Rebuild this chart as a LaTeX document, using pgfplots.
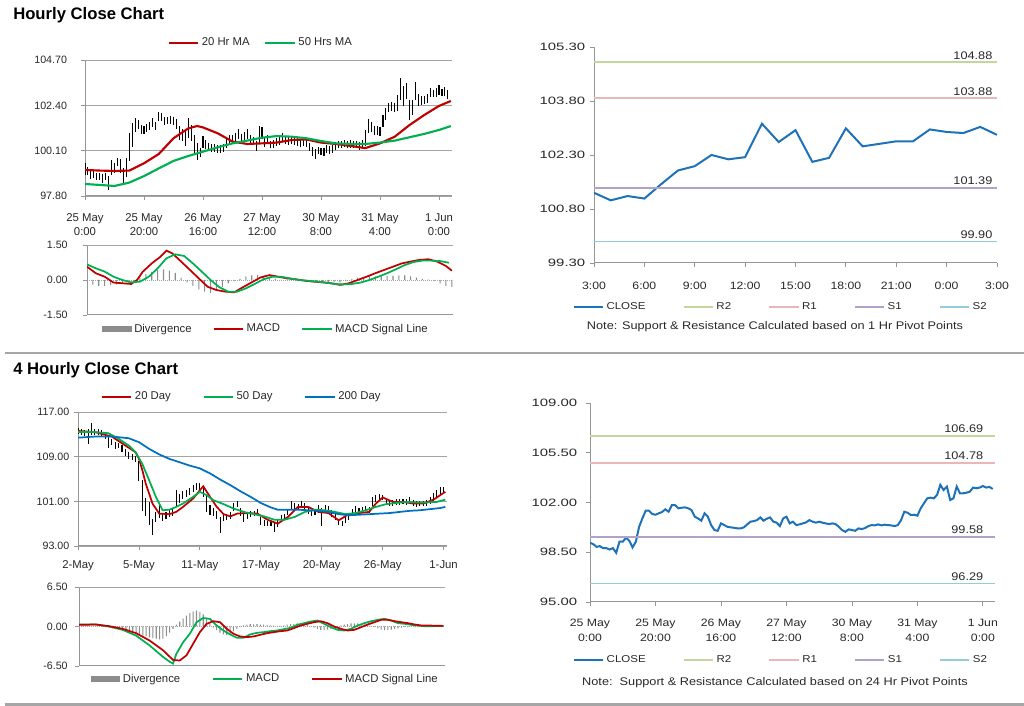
\documentclass[border=0pt]{standalone}
\usepackage{fontspec}
\setmainfont{Liberation Sans}
\newfontfamily\widefont[FakeStretch=1.4]{Liberation Sans}
\newfontfamily\midfont[FakeStretch=1.15]{Liberation Sans}
\usepackage{pgfplots}
\usepackage{pgfplotstable}
\pgfplotsset{compat=1.18}

\definecolor{mared}{RGB}{192,0,0}
\definecolor{magreen}{RGB}{0,176,80}
\definecolor{mablue}{RGB}{0,112,192}
\definecolor{closeblue}{RGB}{30,114,184}
\definecolor{rtwo}{RGB}{195,214,155}
\definecolor{rone}{RGB}{230,185,184}
\definecolor{sone}{RGB}{179,162,199}
\definecolor{stwo}{RGB}{147,205,221}
\definecolor{gridgray}{RGB}{165,165,165}
\definecolor{axgray}{RGB}{150,150,150}
\definecolor{divgray}{RGB}{140,140,140}
\definecolor{txt}{RGB}{40,40,40}

% ---------- hourly closes (25 May 0:00 ... 1 Jun 3:00) ----------
\pgfplotstableread{
h c e
0 99.16 0.30
1 99.07 0.20
2 98.88 0.20
3 98.93 0.20
4 98.79 0.20
5 98.79 0.20
6 98.69 0.22
7 98.79 0.20
8 98.46 0.35
9 99.24 0.40
10 99.24 0.25
11 99.52 0.22
12 99.31 0.35
13 98.84 0.40
14 99.24 0.50
15 100.29 0.70
16 100.88 0.60
17 101.42 0.35
18 101.42 0.22
19 101.19 0.22
20 101.14 0.20
21 101.24 0.20
22 101.33 0.20
23 101.52 0.22
24 101.35 0.20
25 101.82 0.22
26 101.82 0.20
27 101.59 0.20
28 101.63 0.20
29 101.66 0.20
30 101.59 0.20
31 101.47 0.25
32 101.00 0.35
33 100.88 0.30
34 100.72 0.40
35 101.24 0.50
36 101.00 0.40
37 100.41 0.50
38 100.06 0.45
39 100.01 0.25
40 100.53 0.30
41 100.41 0.22
42 100.29 0.20
43 100.25 0.20
44 100.22 0.20
45 100.18 0.20
46 100.18 0.20
47 100.25 0.20
48 100.46 0.22
49 100.65 0.22
50 100.69 0.20
51 100.76 0.25
52 100.95 0.25
53 100.72 0.22
54 100.86 0.20
55 100.95 0.25
56 100.65 0.22
57 100.58 0.20
58 100.34 0.25
59 100.88 0.45
60 101.00 0.30
61 100.53 0.25
62 100.65 0.22
63 100.41 0.20
64 100.46 0.20
65 100.53 0.20
66 100.60 0.20
67 100.76 0.22
68 100.65 0.20
69 100.58 0.20
70 100.65 0.20
71 100.58 0.20
72 100.53 0.20
73 100.48 0.20
74 100.53 0.20
75 100.48 0.20
76 100.29 0.22
77 100.06 0.25
78 99.94 0.25
79 100.11 0.20
80 100.06 0.20
81 100.01 0.20
82 100.18 0.20
83 100.13 0.20
84 100.20 0.20
85 100.34 0.20
86 100.41 0.20
87 100.39 0.18
88 100.46 0.18
89 100.39 0.18
90 100.44 0.18
91 100.41 0.18
92 100.39 0.18
93 100.34 0.20
94 100.41 0.25
95 100.76 0.40
96 101.35 0.35
97 101.28 0.25
98 101.12 0.25
99 101.14 0.22
100 101.07 0.25
101 101.59 0.30
102 101.94 0.30
103 102.29 0.25
104 102.34 0.22
105 102.29 0.25
106 102.53 0.40
107 103.24 0.55
108 102.88 0.50
109 103.12 0.40
110 102.18 0.50
111 102.29 0.40
112 103.12 0.45
113 102.65 0.30
114 102.65 0.22
115 102.69 0.20
116 102.76 0.22
117 103.05 0.25
118 103.00 0.20
119 103.05 0.22
120 103.16 0.25
121 103.05 0.20
122 103.10 0.22
123 102.95 0.22
}\hourly

\pgfplotstableread{
h v
0 99.12
5 99.09
10 99.07
15 99.09
20 99.46
25 99.93
30 100.73
35 101.23
38 101.35
40 101.28
45 100.98
50 100.56
55 100.44
60 100.47
65 100.51
70 100.64
75 100.67
80 100.51
85 100.44
90 100.34
95 100.23
100 100.47
105 100.81
110 101.40
115 101.91
120 102.37
124 102.62
}\hmaA

\pgfplotstableread{
h v
0 98.41
5 98.36
10 98.31
15 98.48
20 98.81
25 99.20
30 99.58
35 99.83
40 100.05
45 100.27
50 100.47
55 100.61
60 100.76
65 100.84
70 100.81
75 100.73
80 100.59
85 100.47
90 100.44
95 100.44
100 100.51
105 100.61
110 100.78
115 100.95
120 101.15
124 101.35
}\hmaB

\pgfplotstableread{
h m
0 0.57
3 0.29
6 0.14
9 -0.11
12 -0.14
15 -0.17
17 0.00
19 0.36
22 0.71
25 1.00
27 1.26
29 1.14
32 0.79
35 0.43
38 0.07
41 -0.29
44 -0.43
47 -0.50
50 -0.53
53 -0.31
56 -0.10
59 0.11
62 0.21
65 0.14
68 0.07
71 0.03
74 -0.03
77 -0.07
80 -0.10
83 -0.14
86 -0.21
89 -0.14
92 0.00
95 0.14
98 0.29
101 0.43
104 0.57
107 0.71
110 0.79
113 0.86
116 0.89
119 0.79
122 0.60
124 0.40
}\hmacd

\pgfplotstableread{
h s
0 0.67
3 0.50
6 0.36
9 0.14
12 0.00
15 -0.10
18 -0.07
21 0.14
24 0.50
27 0.93
30 1.10
33 1.03
36 0.71
39 0.36
42 0.00
45 -0.31
48 -0.50
51 -0.50
54 -0.36
57 -0.17
60 0.03
63 0.14
66 0.14
69 0.07
72 0.00
75 -0.03
78 -0.07
81 -0.11
84 -0.17
87 -0.19
90 -0.17
93 -0.11
96 0.00
99 0.14
102 0.29
105 0.46
108 0.64
111 0.77
114 0.83
117 0.83
120 0.81
123 0.74
}\hsig

\pgfplotstableread{
h d
0 -0.10
2 -0.20
4 -0.25
6 -0.25
8 -0.22
10 -0.20
12 -0.15
14 -0.10
16 -0.05
18 0.10
20 0.25
22 0.35
24 0.42
26 0.45
28 0.40
30 0.30
32 0.10
34 -0.10
36 -0.25
38 -0.40
40 -0.50
42 -0.55
44 -0.45
46 -0.30
48 -0.15
50 -0.05
52 0.05
54 0.15
56 0.20
58 0.22
60 0.18
62 0.12
64 0.05
66 0.02
68 0.03
70 0.02
72 -0.02
74 -0.03
76 -0.05
78 -0.05
80 -0.05
82 -0.08
84 -0.10
86 -0.10
88 -0.05
90 0.05
92 0.10
94 0.12
96 0.15
98 0.15
100 0.15
102 0.17
104 0.18
106 0.20
108 0.20
110 0.15
112 0.10
114 0.05
116 0.02
118 -0.05
120 -0.15
122 -0.25
124 -0.30
}\hdiv

% ---------- last 24 hourly closes ----------
\pgfplotstableread{
h c
0 101.25
1 101.04
2 101.16
3 101.09
4 101.49
5 101.87
6 101.99
7 102.30
8 102.18
9 102.24
10 103.17
11 102.66
12 102.99
13 102.11
14 102.22
15 103.04
16 102.54
17 102.61
18 102.68
19 102.68
20 103.01
21 102.94
22 102.91
23 103.08
24 102.86
}\pivA

% ---------- 4-hourly bars (2 May ... 1 Jun) ----------
\pgfplotstableread{
i c e
0 113.6 0.6
1 113.4 0.5
2 113.2 0.5
3 112.6 1.4
4 114.0 1.1
5 113.4 0.5
6 113.4 0.5
7 113.2 0.5
8 112.8 0.6
9 111.6 1.1
10 111.6 0.6
11 111.0 0.6
12 111.0 0.5
13 110.4 0.6
14 109.8 0.6
15 109.2 0.6
16 108.9 0.5
17 108.6 0.6
18 106.5 1.8
19 102.0 2.8
20 100.0 1.6
21 98.8 2.0
22 96.4 1.5
23 98.2 0.9
24 99.3 1.3
25 98.2 0.7
26 98.5 0.6
27 98.8 0.6
28 99.1 0.7
29 101.5 1.5
30 101.5 0.8
31 102.1 0.7
32 102.4 0.6
33 102.7 0.6
34 103.3 0.7
35 103.6 0.6
36 103.7 0.6
37 102.7 0.9
38 100.5 1.5
39 99.4 0.9
40 99.1 0.7
41 98.5 0.7
42 96.8 1.4
43 98.2 0.7
44 98.2 0.6
45 98.5 0.6
46 100.0 0.7
47 100.5 0.6
48 99.1 0.7
49 98.2 0.9
50 98.5 0.6
51 98.7 0.5
52 98.8 0.5
53 99.1 0.6
54 97.5 0.7
55 97.1 0.5
56 97.0 0.5
57 97.0 0.5
58 96.3 0.8
59 97.0 0.6
60 97.9 0.6
61 98.2 0.6
62 99.1 0.6
63 100.3 0.7
64 100.1 0.6
65 100.0 0.5
66 100.5 0.5
67 100.2 0.5
68 99.4 0.6
69 98.9 0.5
70 99.1 0.5
71 99.7 0.6
72 98.2 1.6
73 99.7 0.6
74 99.7 0.5
75 98.8 0.6
76 98.2 0.6
77 97.3 0.6
78 97.0 0.5
79 97.7 0.6
80 98.2 0.6
81 99.1 0.6
82 99.5 0.7
83 99.3 0.5
84 99.4 0.5
85 99.7 0.5
86 99.4 0.5
87 100.9 0.8
88 101.5 0.7
89 101.8 0.6
90 101.7 0.5
91 100.9 0.6
92 100.6 0.5
93 100.7 0.5
94 100.9 0.5
95 100.9 0.5
96 101.0 0.5
97 100.9 0.5
98 101.2 0.5
99 100.7 0.5
100 100.5 0.5
101 100.6 0.4
102 100.6 0.4
103 100.7 0.5
104 101.2 0.6
105 101.8 0.7
106 102.4 0.7
107 102.9 0.6
108 103.0 0.6
}\fourh

\pgfplotstableread{
i v
0 113.6
5 113.4
10 112.6
14 111.0
17 109.8
18 108.6
19 106.6
20 104.2
22 100.6
24 98.8
27 98.7
29 99.1
31 100.0
34 101.5
37 103.7
39 101.8
41 100.0
43 98.7
45 98.3
47 98.8
50 98.9
53 98.8
56 97.7
59 97.0
62 98.2
65 100.0
68 100.0
71 99.1
74 98.9
77 97.6
80 98.7
83 98.9
86 99.1
88 100.6
90 101.7
93 100.9
96 100.9
99 100.6
102 100.6
105 101.3
108.5 102.7
}\dmaA

\pgfplotstableread{
i v
0 113.4
5 113.4
9 113.2
12 112.2
15 111.0
17 109.8
19 107.7
21 104.8
23 101.8
25 99.4
27 99.5
29 100.0
31 100.6
34 101.8
36 102.7
38 102.1
40 101.2
43 100.5
46 99.7
49 99.1
52 98.7
55 98.3
58 97.7
61 97.7
64 98.2
67 99.1
70 99.5
73 99.4
76 99.1
79 98.7
82 98.9
85 99.4
88 100.0
91 100.5
94 100.7
97 100.9
100 100.8
103 100.8
106 100.9
108.5 101.3
}\dmaB

\pgfplotstableread{
i v
0 112.4
5 112.6
10 112.6
15 112.3
18 111.6
21 110.4
24 109.4
27 108.6
30 108.0
33 107.4
36 106.9
39 106.0
42 104.9
45 103.9
48 102.8
51 101.8
54 100.7
57 99.9
59 99.5
62 99.5
65 99.5
68 99.4
71 99.3
74 99.1
77 98.7
80 98.5
83 98.6
86 98.7
89 98.8
92 98.9
95 99.1
98 99.3
101 99.4
104 99.6
107 99.8
108.5 100.0
}\dmaC

\pgfplotstableread{
i m
0 0.33
5 0.33
9 0.00
13 -0.55
17 -1.50
21 -3.10
25 -5.00
27 -5.80
28 -6.10
29 -4.50
31 -2.60
33 -1.20
35 0.70
37 1.40
39 1.25
41 0.16
43 -0.66
45 -1.30
47 -1.86
49 -1.86
51 -1.30
53 -1.04
55 -0.93
57 -0.77
59 -0.66
61 -0.44
63 -0.22
65 0.27
67 0.55
69 0.82
71 0.98
73 0.44
75 -0.11
77 -0.55
79 -0.66
81 -0.38
83 0.16
85 0.55
87 0.87
89 1.10
91 1.26
93 0.98
95 0.55
97 0.44
99 0.27
101 0.16
103 0.05
105 0.05
108.5 0.10
}\dmacd

\pgfplotstableread{
i s
0 0.27
5 0.33
9 0.05
13 -0.38
17 -1.10
21 -2.30
25 -3.90
28 -5.50
30 -5.60
32 -4.75
34 -2.84
36 -0.93
38 0.44
40 0.87
42 0.71
44 -0.38
46 -1.20
48 -1.64
50 -1.75
52 -1.64
54 -1.37
56 -1.10
58 -0.93
60 -0.77
62 -0.66
64 -0.27
66 0.16
68 0.44
70 0.71
72 0.87
74 0.55
76 0.00
78 -0.38
80 -0.66
82 -0.55
84 -0.11
86 0.33
88 0.71
90 1.10
92 1.10
94 0.87
96 0.71
98 0.55
100 0.33
102 0.16
104 0.16
108.5 0.10
}\dsig

\pgfplotstableread{
i d
0 0.10
1 0.10
2 0.10
3 0.05
4 0.00
5 0.00
6 0.00
7 -0.05
8 -0.10
9 -0.20
10 -0.30
11 -0.40
12 -0.50
13 -0.60
14 -0.70
15 -0.90
16 -1.00
17 -1.10
18 -1.30
19 -1.50
20 -1.60
21 -1.80
22 -1.90
23 -2.00
24 -2.10
25 -2.00
26 -1.60
27 -1.00
28 -0.40
29 0.30
30 0.80
31 1.30
32 1.80
33 2.20
34 2.50
35 2.60
36 2.40
37 2.00
38 1.30
39 0.50
40 -0.20
41 -0.60
42 -1.00
43 -1.30
44 -1.40
45 -1.20
46 -0.80
47 -0.40
48 -0.10
49 0.20
50 0.30
51 0.40
52 0.35
53 0.40
54 0.30
55 0.30
56 0.25
57 0.20
58 0.15
59 0.10
60 0.10
61 0.20
62 0.30
63 0.40
64 0.40
65 0.50
66 0.50
67 0.40
68 0.30
69 0.10
70 -0.20
71 -0.40
72 -0.60
73 -0.60
74 -0.50
75 -0.40
76 -0.20
77 0.00
78 0.20
79 0.30
80 0.40
81 0.50
82 0.50
83 0.50
84 0.40
85 0.30
86 0.20
87 0.10
88 -0.10
89 -0.30
90 -0.50
91 -0.60
92 -0.60
93 -0.50
94 -0.40
95 -0.30
96 -0.20
97 -0.10
98 -0.10
99 -0.10
100 -0.10
101 -0.10
102 -0.10
103 -0.10
104 -0.10
105 -0.10
106 -0.10
107 -0.10
108 -0.10
}\ddiv

\pgfplotsset{
  base/.style={
    scale only axis,
    axis x line*=bottom, axis y line*=left,
    axis line style={axgray, line width=0.75pt},
    every tick/.style={axgray, line width=0.6pt},
    tick align=outside, major tick length=3pt,
    /pgf/number format/assume math mode=true,
    yticklabel style={/pgf/number format/fixed, /pgf/number format/fixed zerofill, /pgf/number format/precision=2, text=txt},
    xticklabel style={align=center, text=txt},
    grid style={gridgray, line width=0.6pt},
    legend columns=-1,
    legend cell align=left,
    legend style={draw=none, fill=none, inner sep=0pt, text=txt},
    legend image code/.code={\draw[#1] (0pt,0pt) -- (22pt,0pt);},
  },
  leftf/.style={
    yticklabel style={font=\fontsize{8}{9}\selectfont},
    xticklabel style={font=\fontsize{8.5}{11}\selectfont},
    legend style={font=\fontsize{8.5}{10}\selectfont},
  },
  rightf/.style={
    yticklabel style={font=\widefont\fontsize{8}{9}\selectfont},
    xticklabel style={font=\midfont\fontsize{8}{11}\selectfont},
    legend style={font=\midfont\fontsize{7.5}{9}\selectfont},
  },
  candle/.style={draw=none, mark=none, forget plot, error bars/.cd, y dir=both, y explicit, error mark=none,
    error bar style={draw=black, line width=0.8pt}},
  divleg/.style={legend image code/.code={\fill[divgray] (0pt,-2.5pt) rectangle (22pt,2.5pt);}},
}

\begin{document}
\begin{tikzpicture}
\useasboundingbox (0,0) rectangle (768pt,529.5pt);

% titles and separators
\node[anchor=base west, font=\bfseries\fontsize{12.5}{14}\selectfont, inner sep=0pt] at (9.75pt,514.5pt) {Hourly Close Chart};
\node[anchor=base west, font=\bfseries\fontsize{12.5}{14}\selectfont, inner sep=0pt] at (9.75pt,248.25pt) {4 Hourly Close Chart};
\draw[gray!70, line width=1.5pt] (3.75pt,264.75pt) -- (768pt,264.75pt);
\draw[gray!70, line width=2.25pt] (3.75pt,0.9pt) -- (768pt,0.9pt);

% ===== Hourly price =====
\begin{axis}[base, leftf, at={(63.75pt,382.5pt)}, width=275.25pt, height=102pt,
  xmin=0, xmax=124.4, ymin=97.8, ymax=104.7,
  ytick={97.8,100.1,102.4,104.7}, ymajorgrids,
  yticklabel style={xshift=-7pt},
  xticklabel style={yshift=-6.5pt},
  xtick={0,20,40,60,80,100,120},
  xticklabels={{25 May\\0:00},{25 May\\20:00},{26 May\\16:00},{27 May\\12:00},{30 May\\8:00},{31 May\\4:00},{1 Jun\\0:00}},
  legend style={at={(0.48,1.125)}, anchor=center, /tikz/every even column/.append style={column sep=9pt}}]
\addplot[candle] table[x=h, y=c, y error=e] {\hourly};
\addplot[mared, line width=1.6pt] table[x=h, y=v] {\hmaA};
\addlegendentry{20 Hr MA}
\addplot[magreen, line width=1.6pt] table[x=h, y=v] {\hmaB};
\addlegendentry{50 Hrs MA}
\end{axis}

% ===== Hourly MACD =====
\begin{axis}[base, leftf, at={(65.25pt,293.25pt)}, width=274.5pt, height=52.5pt,
  xmin=0, xmax=124.4, ymin=-1.5, ymax=1.5, ytick={-1.5,0,1.5}, xtick=\empty,
  yticklabel style={xshift=-8pt},
  legend style={at={(0.49,-0.2)}, anchor=center, /tikz/every even column/.append style={column sep=14pt}}]
\draw[gridgray, line width=0.6pt] (rel axis cs:0,1) -- (rel axis cs:1,1);
\draw[gridgray, line width=0.5pt, densely dotted] (rel axis cs:0,0.5) -- (rel axis cs:1,0.5);
\addplot[ybar, bar width=0.8pt, fill=divgray, draw=none, divleg] table[x=h, y=d] {\hdiv};
\addlegendentry{Divergence}
\addplot[mared, line width=1.3pt] table[x=h, y=m] {\hmacd};
\addlegendentry{MACD}
\addplot[magreen, line width=1.3pt] table[x=h, y=s] {\hsig};
\addlegendentry{MACD Signal Line}
\end{axis}

% ===== Hourly pivot =====
\begin{axis}[base, rightf, at={(445.5pt,332.25pt)}, width=302.25pt, height=162pt,
  xmin=0, xmax=24, ymin=99.3, ymax=105.3,
  ytick={99.3,100.8,102.3,103.8,105.3},
  xticklabel style={yshift=-8pt},
  xtick={0,3,6,9,12,15,18,21,24},
  xticklabels={3:00,6:00,9:00,12:00,15:00,18:00,21:00,0:00,3:00},
  legend style={at={(0.464,-0.204)}, anchor=center, /tikz/every even column/.append style={column sep=26pt}}]
\addplot[closeblue, line width=1.5pt] table[x=h, y=c] {\pivA};
\addlegendentry{CLOSE}
\addplot[rtwo, line width=1.2pt] coordinates {(0,104.88) (24,104.88)};
\addlegendentry{R2}
\addplot[rone, line width=1.2pt] coordinates {(0,103.88) (24,103.88)};
\addlegendentry{R1}
\addplot[sone, line width=1.2pt] coordinates {(0,101.39) (24,101.39)};
\addlegendentry{S1}
\addplot[stwo, line width=1.2pt] coordinates {(0,99.90) (24,99.90)};
\addlegendentry{S2}
\path[font=\midfont\fontsize{8.3}{10}\selectfont, text=txt]
  (axis cs:23.9,104.88) node[anchor=south east, inner sep=2pt] {104.88}
  (axis cs:23.9,103.88) node[anchor=south east, inner sep=2pt] {103.88}
  (axis cs:23.9,101.39) node[anchor=south east, inner sep=2pt] {101.39}
  (axis cs:23.9,99.90) node[anchor=south east, inner sep=2pt] {99.90};
\end{axis}
\node[font=\midfont\fontsize{8.3}{9}\selectfont, text=txt] at (581.25pt,284.25pt) {Note: Support \& Resistance Calculated based on 1 Hr Pivot Points};

% ===== 4-hourly price =====
\begin{axis}[base, leftf, at={(58.5pt,120pt)}, width=276.75pt, height=100.5pt,
  xmin=0, xmax=109, ymin=93, ymax=117,
  ytick={93,101,109,117}, ymajorgrids,
  xticklabel style={yshift=-4.5pt},
  xtick={0,18,36,54,72,90,108},
  xticklabels={2-May,5-May,11-May,17-May,20-May,26-May,1-Jun},
  legend style={at={(0.445,1.112)}, anchor=center, /tikz/every even column/.append style={column sep=22pt}}]
\addplot[candle] table[x=i, y=c, y error=e] {\fourh};
\addplot[mared, line width=1.3pt] table[x=i, y=v] {\dmaA};
\addlegendentry{20 Day}
\addplot[magreen, line width=1.3pt] table[x=i, y=v] {\dmaB};
\addlegendentry{50 Day}
\addplot[mablue, line width=1.3pt] table[x=i, y=v] {\dmaC};
\addlegendentry{200 Day}
\end{axis}

% ===== 4-hourly MACD =====
\begin{axis}[base, leftf, at={(59.25pt,30pt)}, width=274.5pt, height=59.25pt,
  xmin=0, xmax=109, ymin=-6.5, ymax=6.5, ytick={-6.5,0,6.5}, xtick=\empty,
  yticklabel style={xshift=-2pt},
  legend style={at={(0.51,-0.165)}, anchor=center, /tikz/every even column/.append style={column sep=22pt}}]
\draw[gridgray, line width=0.6pt] (rel axis cs:0,1) -- (rel axis cs:1,1);
\draw[gridgray, line width=0.5pt, densely dotted] (rel axis cs:0,0.5) -- (rel axis cs:1,0.5);
\addplot[ybar, bar width=0.8pt, fill=divgray, draw=none, divleg] table[x=i, y=d] {\ddiv};
\addlegendentry{Divergence}
\addplot[magreen, line width=1.3pt] table[x=i, y=m] {\dmacd};
\addlegendentry{MACD}
\addplot[mared, line width=1.3pt] table[x=i, y=s] {\dsig};
\addlegendentry{MACD Signal Line}
\end{axis}

% ===== 4-hourly pivot =====
\begin{axis}[base, rightf, at={(442.5pt,78pt)}, width=303.75pt, height=149.25pt,
  xmin=0, xmax=123.7, ymin=95, ymax=109,
  ytick={95,98.5,102,105.5,109},
  yticklabel style={xshift=-3pt},
  xticklabel style={yshift=-6.5pt},
  xtick={0,20,40,60,80,100,120},
  xticklabels={{25 May\\0:00},{25 May\\20:00},{26 May\\16:00},{27 May\\12:00},{30 May\\8:00},{31 May\\4:00},{1 Jun\\0:00}},
  legend style={at={(0.472,-0.291)}, anchor=center, /tikz/every even column/.append style={column sep=26pt}}]
\addplot[closeblue, line width=1.5pt] table[x=h, y=c] {\hourly};
\addlegendentry{CLOSE}
\addplot[rtwo, line width=1.2pt] coordinates {(0,106.69) (123.7,106.69)};
\addlegendentry{R2}
\addplot[rone, line width=1.2pt] coordinates {(0,104.78) (123.7,104.78)};
\addlegendentry{R1}
\addplot[sone, line width=1.2pt] coordinates {(0,99.58) (123.7,99.58)};
\addlegendentry{S1}
\addplot[stwo, line width=1.2pt] coordinates {(0,96.29) (123.7,96.29)};
\addlegendentry{S2}
\path[font=\midfont\fontsize{8.3}{10}\selectfont, text=txt]
  (axis cs:121,106.69) node[anchor=south east, inner sep=2pt] {106.69}
  (axis cs:121,104.78) node[anchor=south east, inner sep=2pt] {104.78}
  (axis cs:121,99.58) node[anchor=south east, inner sep=2pt] {99.58}
  (axis cs:121,96.29) node[anchor=south east, inner sep=2pt] {96.29};
\end{axis}
\node[font=\midfont\fontsize{8.3}{9}\selectfont, text=txt] at (581.25pt,17.25pt) {Note:\ \ Support \& Resistance Calculated based on 24 Hr Pivot Points};

\end{tikzpicture}
\end{document}
